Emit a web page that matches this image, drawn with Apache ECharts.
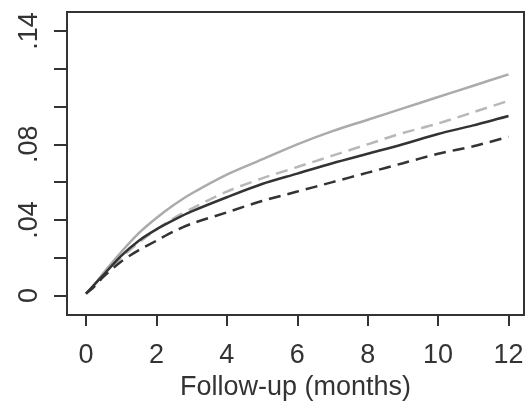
<!DOCTYPE html>
<html>
<head>
<meta charset="utf-8">
<script src="https://cdn.jsdelivr.net/npm/echarts@6/dist/echarts.min.js"></script>
<style>
  html, body { margin: 0; padding: 0; background: #fff; }
  #main { width: 529px; height: 406px; }
</style>
</head>
<body>
<div id="main"></div>
<script>
// follow-up time (months)
var months = [0, 0.25, 0.5, 1, 1.5, 2, 2.5, 3, 4, 5, 6, 7, 8, 9, 10, 11, 12];
// cumulative incidence per curve
var lightSolid  = [0.001, 0.006, 0.012, 0.023, 0.033, 0.041, 0.048, 0.054, 0.064, 0.072, 0.080, 0.087, 0.093, 0.099, 0.105, 0.111, 0.117];
var lightDashed = [0.001, 0.006, 0.011, 0.020, 0.028, 0.035, 0.041, 0.046, 0.055, 0.062, 0.068, 0.074, 0.080, 0.086, 0.091, 0.097, 0.103];
var darkSolid   = [0.001, 0.006, 0.011, 0.021, 0.029, 0.035, 0.040, 0.0445, 0.052, 0.059, 0.0645, 0.070, 0.075, 0.080, 0.0855, 0.090, 0.095];
var darkDashed  = [0.001, 0.005, 0.010, 0.018, 0.024, 0.029, 0.034, 0.038, 0.044, 0.050, 0.055, 0.060, 0.065, 0.070, 0.075, 0.079, 0.084];

var xTicks = [0, 2, 4, 6, 8, 10, 12];
var yTicks = [0, 0.02, 0.04, 0.06, 0.08, 0.10, 0.12, 0.14];
var yLabels = [0, 0.04, 0.08, 0.14];

function pairs(vals) {
    return months.map(function (m, i) { return [m, vals[i]]; });
}

function line(name, vals, color, type) {
    return {
        name: name,
        type: 'line',
        data: pairs(vals),
        smooth: 0.3,
        showSymbol: false,
        lineStyle: { color: color, width: 2.5, type: type === 'dashed' ? [12, 7] : 'solid' },
        animation: false
    };
}

var chart = echarts.init(document.getElementById('main'));
var font = 'Liberation Sans, Arial, sans-serif';

var option = {
    backgroundColor: '#fff',
    animation: false,
    grid: {
        left: 67, top: 12, right: 5, bottom: 84,
        show: true, borderColor: '#333', borderWidth: 2
    },
    xAxis: {
        type: 'value',
        min: -0.54, max: 12.44,
        name: 'Follow-up (months)',
        nameLocation: 'middle',
        nameGap: 59,
        nameTextStyle: { color: '#333', fontSize: 27, fontFamily: font },
        axisLine: { show: true, onZero: false, lineStyle: { color: '#333', width: 2 } },
        axisTick: { show: true, length: 11, customValues: xTicks, lineStyle: { color: '#333', width: 2 } },
        axisLabel: { customValues: xTicks, margin: 27, color: '#333', fontSize: 27, fontFamily: font },
        splitLine: { show: false }
    },
    yAxis: {
        type: 'value',
        min: -0.0103, max: 0.15,
        axisLine: { show: true, onZero: false, lineStyle: { color: '#333', width: 2 } },
        axisTick: { show: true, length: 13, customValues: yTicks, lineStyle: { color: '#333', width: 2 } },
        axisLabel: {
            customValues: yLabels, rotate: 90, margin: 24,
            color: '#333', fontSize: 27, fontFamily: font,
            formatter: function (v) {
                if (v === 0) return '0';
                return String(Math.round(v * 100) / 100).replace(/^0/, '');
            }
        },
        splitLine: { show: false }
    },
    series: [
        line('a', lightSolid, '#ababab', 'solid'),
        line('b', lightDashed, '#b8b8b8', 'dashed'),
        line('c', darkSolid, '#333', 'solid'),
        line('d', darkDashed, '#333', 'dashed')
    ]
};
option && chart.setOption(option);
</script>
</body>
</html>
